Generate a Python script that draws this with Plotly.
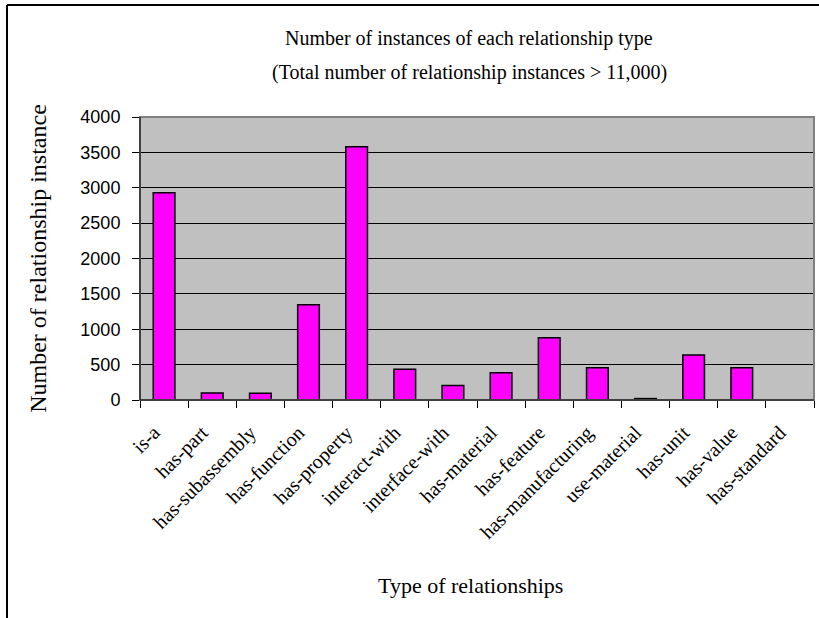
import plotly.graph_objects as go

categories = ["is-a", "has-part", "has-subassembly", "has-function", "has-property",
              "interact-with", "interface-with", "has-material", "has-feature",
              "has-manufacturing", "use-material", "has-unit", "has-value", "has-standard"]
counts = [2930, 100, 95, 1345, 3580, 435, 205, 385, 880, 455, 20, 635, 455, 0]
y_ticks = [0, 500, 1000, 1500, 2000, 2500, 3000, 3500, 4000]

title_line1 = "Number of instances of each relationship type"
title_line2 = "(Total number of relationship instances > 11,000)"
x_title = "Type of relationships"
y_title = "Number of relationship instance"

W, H = 819, 618
L, R, T, B = 140, 5, 117, 218
pw, ph = W - L - R, H - T - B

def px_x(x):
    return (x - L) / pw

def px_y(y):
    return (H - B - y) / ph

serif = "Liberation Serif, Times New Roman, serif"
sans = "Liberation Sans, Arial, sans-serif"

fig = go.Figure()
fig.add_trace(go.Bar(
    x=categories, y=counts,
    marker=dict(color="#FF00FF", line=dict(color="black", width=1.5)),
    width=0.45,
))

fig.update_layout(
    width=W, height=H,
    margin=dict(l=L, r=R, t=T, b=B),
    paper_bgcolor="white",
    plot_bgcolor="#C0C0C0",
    showlegend=False,
    xaxis=dict(
        tickangle=-45,
        tickfont=dict(family=serif, size=20, color="black"),
        showline=True, linecolor="black", linewidth=1,
        ticks="outside", tickson="boundaries", ticklen=7, tickcolor="black",
        showgrid=False, zeroline=False,
        ticklabelstandoff=12,
        ticklabelshift=-10,
    ),
    yaxis=dict(
        range=[0, 4000],
        tickvals=y_ticks,
        tickfont=dict(family=sans, size=18, color="black"),
        showline=True, linecolor="black", linewidth=1,
        ticks="outside", ticklen=7, tickcolor="black",
        showgrid=True, gridcolor="black", gridwidth=1,
        zeroline=False,
        ticklabelstandoff=8,
        title=dict(text=y_title, font=dict(family=serif, size=24, color="black"), standoff=26),
    ),
    annotations=[
        dict(text=title_line1, xref="paper", yref="paper", x=px_x(469), y=px_y(38),
             showarrow=False, font=dict(family=serif, size=20, color="black"),
             xanchor="center", yanchor="middle"),
        dict(text=title_line2, xref="paper", yref="paper", x=px_x(469), y=px_y(72),
             showarrow=False, font=dict(family=serif, size=20, color="black"),
             xanchor="center", yanchor="middle"),
        dict(text=x_title, xref="paper", yref="paper", x=px_x(470), y=px_y(585),
             showarrow=False, font=dict(family=serif, size=22, color="black"),
             xanchor="center", yanchor="middle"),
    ],
    shapes=[
        dict(type="rect", xref="paper", yref="paper", x0=0, x1=1, y0=0, y1=1,
             line=dict(color="#808080", width=2), layer="above"),
        dict(type="line", xref="paper", yref="paper", x0=0, x1=0, y0=0, y1=1,
             line=dict(color="black", width=1), layer="above"),
        dict(type="line", xref="paper", yref="paper", x0=0, x1=1, y0=0, y1=0,
             line=dict(color="black", width=1), layer="above"),
        dict(type="line", xref="paper", yref="paper", x0=px_x(7), x1=px_x(7),
             y0=px_y(H + 20), y1=px_y(5), line=dict(color="black", width=2)),
        dict(type="line", xref="paper", yref="paper", x0=px_x(7), x1=px_x(W + 20),
             y0=px_y(5), y1=px_y(5), line=dict(color="black", width=2)),
    ],
)

fig.write_html("out.html")
